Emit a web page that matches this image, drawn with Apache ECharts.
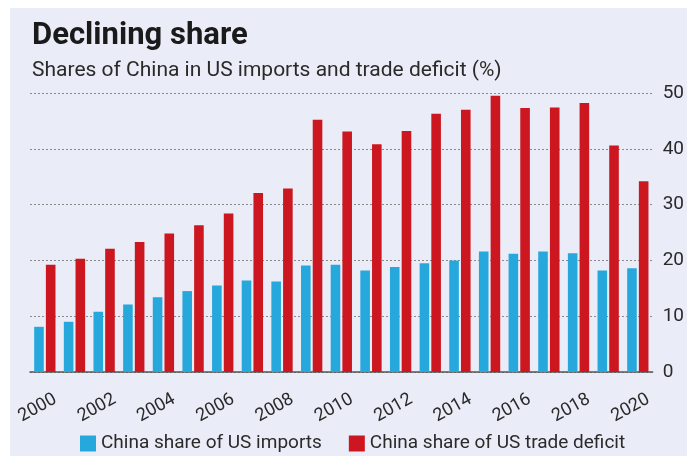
<!DOCTYPE html>
<html>
<head>
<meta charset="utf-8">
<script src="https://cdn.jsdelivr.net/npm/echarts@6/dist/echarts.min.js"></script>
<style>
  html, body { margin: 0; padding: 0; background: #ffffff; }
  #chart { width: 687px; height: 456px; }
</style>
</head>
<body>
<div id="chart"></div>
<script>
// Years on the category axis
const years = ['2000','2001','2002','2003','2004','2005','2006','2007','2008','2009','2010',
               '2011','2012','2013','2014','2015','2016','2017','2018','2019','2020'];
// China's share of US imports (%)
const importsShare = [8.1, 9.0, 10.8, 12.1, 13.4, 14.5, 15.5, 16.4, 16.2, 19.1, 19.2,
                      18.2, 18.8, 19.5, 20.0, 21.6, 21.2, 21.6, 21.3, 18.2, 18.6];
// China's share of the US trade deficit (%)
const deficitShare = [19.2, 20.3, 22.1, 23.3, 24.8, 26.3, 28.4, 32.1, 32.9, 45.2, 43.1,
                      40.8, 43.2, 46.3, 47.0, 49.5, 47.3, 47.4, 48.2, 40.6, 34.2];
const yTicks = [0, 10, 20, 30, 40, 50];
const seriesNames = ['China share of US imports', 'China share of US trade deficit'];

const FONT = "Roboto, 'Noto Sans', sans-serif";
const chart = echarts.init(document.getElementById('chart'), null, { renderer: 'canvas' });

chart.setOption({
  backgroundColor: '#ffffff',
  animation: false,
  textStyle: { fontFamily: FONT },
  graphic: [
    { type: 'rect', x: 10, y: 8, shape: { width: 677, height: 448 },
      style: { fill: '#eaedf7' }, z: -10 },
    { type: 'text', x: 6, y: -11, style: { text: 'Chart 3', fontSize: 15, fill: '#555', fontFamily: FONT } },
    { type: 'text', x: 32, y: 20, scaleX: 0.97,
      style: { text: 'Declining share', fontSize: 32, fontWeight: 'bold', fill: '#1a1a1a', fontFamily: FONT } },
    { type: 'text', x: 32, y: 60,
      style: { text: 'Shares of China in US imports and trade deficit (%)', fontSize: 21, fill: '#2a2a2a', fontFamily: FONT } }
  ],
  grid: { left: 30, right: 34, top: 93, bottom: 84, containLabel: false },
  legend: {
    left: 80, bottom: 3, padding: 0,
    itemWidth: 16, itemHeight: 16, itemGap: 27,
    icon: 'rect',
    textStyle: { fontSize: 19, color: '#2a2a2a', fontFamily: FONT },
    data: seriesNames
  },
  xAxis: {
    type: 'category',
    data: years,
    axisLine: { show: true, lineStyle: { color: '#555', width: 1.5 } },
    axisTick: { show: false },
    axisLabel: {
      interval: 1, rotate: 29, margin: 32,
      fontSize: 18, color: '#2a2a2a', fontFamily: FONT,
      padding: [0, -12, 0, 0]
    }
  },
  yAxis: {
    type: 'value',
    position: 'right',
    min: 0, max: 50, interval: 10,
    axisLine: { show: false },
    axisTick: { show: false },
    splitLine: { lineStyle: { color: '#8a8a8a', type: [2, 2], width: 1 } },
    axisLabel: {
      margin: 10, fontSize: 19, color: '#2a2a2a', fontFamily: FONT,
      padding: [10, 0, 0, 0],
      formatter: v => yTicks.includes(v) ? String(v) : ''
    }
  },
  series: [
    { name: seriesNames[0], type: 'bar', data: importsShare, barWidth: 9.6, barGap: '22%',
      itemStyle: { color: '#27a8dc' } },
    { name: seriesNames[1], type: 'bar', data: deficitShare, barWidth: 9.6,
      itemStyle: { color: '#cc1720' } }
  ]
});
</script>
</body>
</html>
